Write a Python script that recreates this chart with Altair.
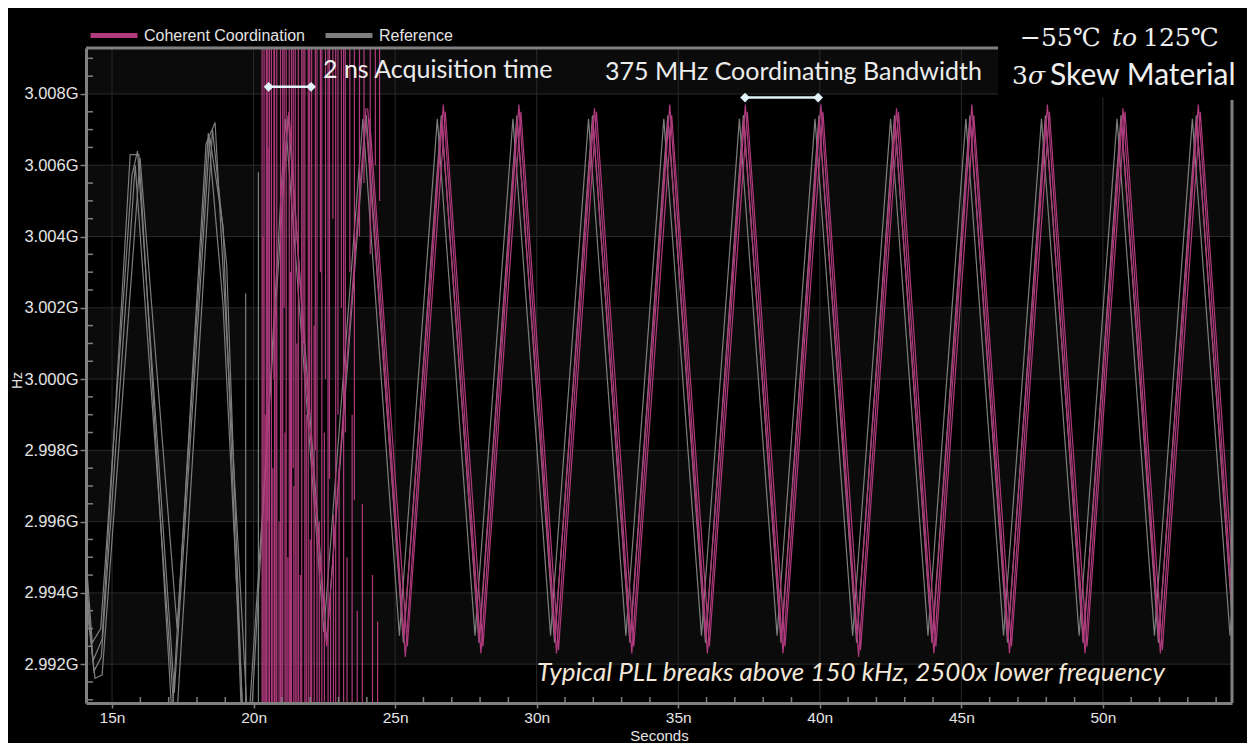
import altair as alt
import pandas as pd

X_DOMAIN = [14.08, 54.56]
Y_DOMAIN = [2.99091, 3.00929]
W, H = 1146, 655

SERIES = ["Coherent Coordination", "Reference"]
COLORS = ["#b03a7d", "#7e7e7e"]

x_major = [15, 20, 25, 30, 35, 40, 45, 50]
x_minor = [16, 17, 18, 19, 21, 22, 23, 24, 26, 27, 28, 29, 31, 32, 33, 34,
           36, 37, 38, 39, 41, 42, 43, 44, 46, 47, 48, 49, 51, 52, 53, 54]
y_major = [2.992, 2.994, 2.996, 2.998, 3.000, 3.002, 3.004, 3.006, 3.008]
y_minor = [2.9910, 2.9915, 2.9925, 2.9930, 2.9935, 2.9945, 2.9950, 2.9955,
           2.9965, 2.9970, 2.9975, 2.9985, 2.9990, 2.9995, 3.0005, 3.0010,
           3.0015, 3.0025, 3.0030, 3.0035, 3.0045, 3.0050, 3.0055, 3.0065,
           3.0070, 3.0075, 3.0085, 3.0090]
band_lo = [3.004, 3.000, 2.996, 2.992, 3.008]
band_hi = [3.006, 3.002, 2.998, 2.994, 3.010]

# ---- Coherent Coordination (locked traces) ----
PINK_A_T = [24.03, 25.36, 26.70, 28.03, 29.37, 30.70, 32.04, 33.36, 34.70, 36.03, 37.37, 38.70,
            40.04, 41.37, 42.71, 44.03, 45.37, 46.70, 48.04, 49.37, 50.71, 52.03, 53.37, 54.70]
PINK_A_V = [3.0076, 2.9922, 3.0077, 2.9923, 3.0077, 2.9923, 3.0076, 2.9923, 3.0077, 2.9923, 3.0077, 2.9923,
            3.0077, 2.9922, 3.0076, 2.9923, 3.0077, 2.9923, 3.0077, 2.9923, 3.0076, 2.9923, 3.0077, 2.9923]
PINK_B_T = [24.10, 25.43, 26.77, 28.10, 29.44, 30.77, 32.11, 33.43, 34.77, 36.10, 37.44, 38.77,
            40.11, 41.44, 42.78, 44.10, 45.44, 46.77, 48.11, 49.44, 50.78, 52.10, 53.44, 54.77]
PINK_B_V = [3.0073, 2.9925, 3.0075, 2.9925, 3.0075, 2.9924, 3.0075, 2.9925, 3.0074, 2.9925, 3.0075, 2.9925,
            3.0075, 2.9924, 3.0075, 2.9925, 3.0074, 2.9925, 3.0075, 2.9925, 3.0075, 2.9924, 3.0075, 2.9925]
PINK_C_T = [23.97, 25.30, 26.64, 27.97, 29.31, 30.64, 31.98, 33.30, 34.64, 35.97, 37.31, 38.64,
            39.98, 41.31, 42.65, 43.97, 45.31, 46.64, 47.98, 49.31, 50.65, 51.97, 53.31, 54.64]
PINK_C_V = [3.0072, 2.9927, 3.0073, 2.9926, 3.0073, 2.9927, 3.0073, 2.9926, 3.0073, 2.9927, 3.0073, 2.9926,
            3.0073, 2.9927, 3.0073, 2.9926, 3.0073, 2.9927, 3.0073, 2.9926, 3.0073, 2.9927, 3.0073, 2.9926]

# ---- Coherent Coordination (acquisition chaos) ----
CHAOS_VERT_T = [20.30, 20.37, 20.45, 20.56, 20.63, 20.74, 20.82, 20.95, 21.03, 21.15, 21.26, 21.34,
                21.47, 21.58, 21.70, 21.81, 21.93, 22.05, 22.24, 22.41, 22.63, 22.90, 23.18]
CHAOS_UP_T = [20.33, 20.41, 20.51, 20.68, 20.79, 20.90, 21.00, 21.11, 21.21, 21.30, 21.42, 21.53,
              21.65, 21.86, 22.00, 22.14, 22.32, 22.50, 22.72, 22.82, 23.02, 23.30, 23.48, 23.66,
              23.84, 24.20, 24.38]
CHAOS_UP_V = [3.0040, 2.9990, 3.0065, 2.9975, 3.0020, 2.9960, 3.0050, 2.9985, 2.9950, 3.0030, 2.9970, 3.0010,
              2.9945, 2.9990, 2.9955, 3.0015, 2.9960, 2.9985, 2.9940, 2.9962, 2.9975, 2.9950, 2.9990, 2.9935,
              2.9965, 2.9945, 2.9932]
CHAOS_DN_T = [20.50, 20.72, 21.08, 21.40, 21.75, 21.98, 22.18, 22.36, 22.54, 22.68, 22.80, 22.98, 23.10,
              23.24, 23.40, 23.56, 23.74, 23.90, 24.12, 24.30, 24.45]
CHAOS_DN_V = [2.9960, 3.0000, 3.0020, 2.9975, 3.0010, 2.9990, 2.9980, 3.0030, 3.0000, 2.9972, 3.0045, 2.9990,
              3.0020, 2.9985, 3.0030, 2.9966, 3.0040, 3.0055, 3.0035, 3.0060, 3.0050]
CHAOS_WAVE_T = [20.95, 21.25, 21.90, 22.58, 23.25, 23.97]
CHAOS_WAVE_V = [3.0050, 3.0075, 2.9995, 2.9925, 3.0000, 3.0076]

# ---- Reference traces ----
GRAY_O_T = [14.08, 14.33, 14.65, 15.64, 15.95, 17.12, 18.32, 18.64, 19.85, 21.12, 22.48, 23.86,
            25.15, 26.49, 27.82, 29.16, 30.49, 31.83, 33.15, 34.49, 35.82, 37.16, 38.49, 39.83,
            41.16, 42.50, 43.82, 45.16, 46.49, 47.83, 49.16, 50.50, 51.82, 53.16, 54.49, 55.83]
GRAY_O_V = [2.9945, 2.9921, 2.9927, 3.0063, 3.0063, 2.9905, 3.0066, 3.0072, 2.9895, 3.0073, 2.9929, 3.0073,
            2.9928, 3.0073, 2.9928, 3.0073, 2.9928, 3.0073, 2.9928, 3.0073, 2.9928, 3.0073, 2.9928, 3.0073,
            2.9928, 3.0073, 2.9928, 3.0073, 2.9928, 3.0073, 2.9928, 3.0073, 2.9928, 3.0073, 2.9928, 3.0073]
GRAY_I_T = [14.08, 14.40, 14.65, 15.99, 17.30, 18.40, 18.92, 19.72, 21.22, 22.58, 23.98,
            25.29, 26.63, 27.96, 29.30, 30.63, 31.97, 33.29, 34.63, 35.96, 37.30, 38.63, 39.97,
            41.30, 42.64, 43.96, 45.30, 46.63, 47.97, 49.30, 50.64, 51.96, 53.30, 54.63]
GRAY_I_V = [2.9938, 2.9916, 2.9917, 3.0062, 2.9930, 3.0069, 3.0021, 2.9890, 3.0074, 2.9926, 3.0074,
            2.9926, 3.0074, 2.9926, 3.0074, 2.9926, 3.0074, 2.9926, 3.0074, 2.9926, 3.0074, 2.9926, 3.0074,
            2.9926, 3.0074, 2.9926, 3.0074, 2.9926, 3.0074, 2.9926, 3.0074, 2.9926, 3.0074, 2.9926]
GRAY_3_T = [14.08, 14.30, 14.60, 15.70, 15.90, 17.20, 18.45, 18.92, 19.62, 19.72, 19.72, 19.72,
            20.17, 20.17, 20.17]
GRAY_3_V = [2.9950, 2.9926, 2.9930, 3.0057, 3.0064, 2.9912, 3.0068, 3.0043, 2.9895, 2.9880, 3.0024, 2.9880,
            2.9880, 3.0058, 2.9880]
GRAY_4_T = [14.08, 14.36, 14.62, 15.82, 17.25, 18.55, 19.05, 19.66]
GRAY_4_V = [2.9942, 2.9918, 2.9922, 3.0060, 2.9900, 3.0070, 3.0032, 2.9893]

# annotation brackets (data coords)
BR_X1 = [20.53, 37.36]
BR_X2 = [22.03, 39.94]
BR_Y = [3.0082, 3.0079]

HI_OUT, LO_OUT = 3.0125, 2.9875

rows = []


def add_trace(series, name, ts, vs):
    for k, (t, v) in enumerate(zip(ts, vs)):
        rows.append(dict(t=t, v=v, series=series, trace=name, i=k))


ch_t, ch_v = [], []
for k, t in enumerate(CHAOS_VERT_T):
    ch_t += [t, t]
    ch_v += [HI_OUT, LO_OUT] if k % 2 == 0 else [LO_OUT, HI_OUT]
up_t, up_v = [], []
for t, v in zip(CHAOS_UP_T, CHAOS_UP_V):
    up_t += [t, t, t]
    up_v += [LO_OUT, v, LO_OUT]
dn_t, dn_v = [], []
for t, v in zip(CHAOS_DN_T, CHAOS_DN_V):
    dn_t += [t, t, t]
    dn_v += [HI_OUT, v, HI_OUT]

add_trace("Reference", "g_o", GRAY_O_T, GRAY_O_V)
add_trace("Reference", "g_i", GRAY_I_T, GRAY_I_V)
add_trace("Reference", "g_3", GRAY_3_T, GRAY_3_V)
add_trace("Reference", "g_4", GRAY_4_T, GRAY_4_V)
add_trace("Coherent Coordination", "p_ch", ch_t, ch_v)
add_trace("Coherent Coordination", "p_up", up_t, up_v)
add_trace("Coherent Coordination", "p_dn", dn_t, dn_v)
add_trace("Coherent Coordination", "p_w", CHAOS_WAVE_T, CHAOS_WAVE_V)
add_trace("Coherent Coordination", "p_c", PINK_C_T, PINK_C_V)
add_trace("Coherent Coordination", "p_b", PINK_B_T, PINK_B_V)
add_trace("Coherent Coordination", "p_a", PINK_A_T, PINK_A_V)

df = pd.DataFrame(rows)
df_gray = df[df.series == "Reference"]
df_pink = df[df.series == "Coherent Coordination"]

AXC = "#808080"
LBL = "#e4e4e4"
FONT = "Liberation Sans"

x_axis = alt.Axis(values=x_major, labelExpr="datum.value + 'n'", grid=False, tickSize=5,
                  tickColor=AXC, tickWidth=1.5, domainColor=AXC, domainWidth=3,
                  labelColor=LBL, labelFont=FONT, labelFontSize=15.5, labelPadding=2,
                  title="Seconds", titleColor=LBL, titleFont=FONT, titleFontSize=15,
                  titleFontWeight="normal", titleY=32, titleBaseline="middle", zindex=1)
y_axis = alt.Axis(values=y_major, labelExpr="format(datum.value, '.3f') + 'G'", grid=False,
                  tickSize=6, tickColor=AXC, tickWidth=1.5, domainColor=AXC, domainWidth=3,
                  labelColor=LBL, labelFont=FONT, labelFontSize=16.5, labelPadding=2,
                  title="Hz", titleColor=LBL, titleFont=FONT, titleFontSize=14,
                  titleFontWeight="normal", titleAngle=270, titleX=-69, titleY=332,
                  titleBaseline="middle", titleAlign="center", zindex=1)
xs = alt.Scale(domain=X_DOMAIN, nice=False, zero=False)
ys = alt.Scale(domain=Y_DOMAIN, nice=False, zero=False)


def X(f):
    return alt.X(f, type="quantitative", scale=xs, axis=x_axis)


def Y(f):
    return alt.Y(f, type="quantitative", scale=ys, axis=y_axis)


legend = alt.Legend(orient="none", legendX=2, legendY=-38.5, direction="horizontal",
                    symbolType="stroke", symbolSize=2209, symbolStrokeWidth=5,
                    labelFontSize=16, labelColor=LBL, labelFont=FONT, title=None,
                    labelLimit=400, columnPadding=10, labelOffset=4, padding=0)
color = alt.Color("series:N", scale=alt.Scale(domain=SERIES, range=COLORS), legend=legend)

one = pd.DataFrame({"a": [0]})

bands = alt.Chart(pd.DataFrame({"lo": band_lo, "hi": band_hi})).mark_rect(
    clip=True, color="#0b0b0b").encode(y=Y("lo"), y2="hi", x=alt.value(0), x2=alt.value(W))
grid_v = alt.Chart(pd.DataFrame({"t": x_major})).mark_rule(color="#2a2a2a", strokeWidth=1).encode(
    x=X("t"), y=alt.value(0), y2=alt.value(H))
grid_h = alt.Chart(pd.DataFrame({"v": y_major})).mark_rule(color="#2a2a2a", strokeWidth=1).encode(
    y=Y("v"), x=alt.value(0), x2=alt.value(W))

gray = alt.Chart(df_gray).mark_line(clip=True, strokeWidth=1.2).encode(
    x=X("t"), y=Y("v"), color=color, detail="trace:N", order="i:Q")
pink = alt.Chart(df_pink).mark_line(clip=True, strokeWidth=1.2).encode(
    x=X("t"), y=Y("v"), color=color, detail="trace:N", order="i:Q")

minor_x = alt.Chart(pd.DataFrame({"t": x_minor})).mark_rule(color=AXC, strokeWidth=1.5).encode(
    x=X("t"), y=alt.value(H), y2=alt.value(H - 6))
minor_y = alt.Chart(pd.DataFrame({"v": y_minor})).mark_rule(color=AXC, strokeWidth=1.5).encode(
    y=Y("v"), x=alt.value(0), x2=alt.value(7))

frame_top = alt.Chart(one).mark_rule(color=AXC, strokeWidth=3).encode(
    x=alt.value(0), x2=alt.value(912), y=alt.value(0))
frame_right = alt.Chart(one).mark_rule(color=AXC, strokeWidth=3).encode(
    x=alt.value(W), y=alt.value(52), y2=alt.value(H))

br_df = pd.DataFrame({"x1": BR_X1, "x2": BR_X2, "y": BR_Y})
br_rule = alt.Chart(br_df).mark_rule(color="#e2f3fa", strokeWidth=2.5).encode(
    x=X("x1"), x2="x2", y=Y("y"))
br_pts = pd.DataFrame({"t": BR_X1 + BR_X2, "v": BR_Y + BR_Y})
br_dia = alt.Chart(br_pts).mark_point(shape="diamond", filled=True, size=95, color="#e2f3fa",
                                       opacity=1).encode(x=X("t"), y=Y("v"))


def txt(s, x, y, size, font="Lato", color="#ececec", style="normal", align="left"):
    return alt.Chart(one).mark_text(text=s, font=font, fontSize=size, color=color,
                                    fontStyle=style, align=align, baseline="middle").encode(
        x=alt.value(x), y=alt.value(y))


t_acq = txt("2 ns Acquisition time", 237, 22, 25)
t_bw = txt("375 MHz Coordinating Bandwidth", 519, 24, 25)
t_pll = txt("Typical PLL breaks above 150 kHz, 2500x lower frequency", 451, 625, 26,
            color="#f3e7d7", style="italic")

box = alt.Chart(one).mark_rect(color="#000000").encode(
    x=alt.value(912), x2=alt.value(1175), y=alt.value(-45), y2=alt.value(49))
SERIF = "DejaVu Serif"
b1 = txt("\u221255\u2103", 934, -10, 25, font=SERIF, color="#f0f0f0")
b2 = txt("to", 1026, -10, 25, font=SERIF, color="#f0f0f0", style="italic")
b3 = txt("125\u2103", 1057, -10, 25, font=SERIF, color="#f0f0f0")
b4 = txt("3", 926, 28, 25, font=SERIF, color="#f0f0f0")
b5 = txt("\u03c3", 942, 28, 25, font=SERIF, color="#f0f0f0", style="italic")
b6 = txt("Skew Material", 964, 28, 30, color="#f0f0f0")

chart = alt.layer(
    bands, grid_v, grid_h, gray, pink, minor_x, minor_y, frame_top, frame_right,
    br_rule, br_dia, t_acq, t_bw, t_pll, box, b1, b2, b3, b4, b5, b6
).properties(
    width=W, height=H,
    autosize=alt.AutoSizeParams(type="none"),
    padding={"left": 78, "top": 40, "right": 15, "bottom": 40},
).configure(background="#000000").configure_view(strokeWidth=0, fill="#000000")

chart.save("out.html", embed_options={"renderer": "svg", "actions": False})
